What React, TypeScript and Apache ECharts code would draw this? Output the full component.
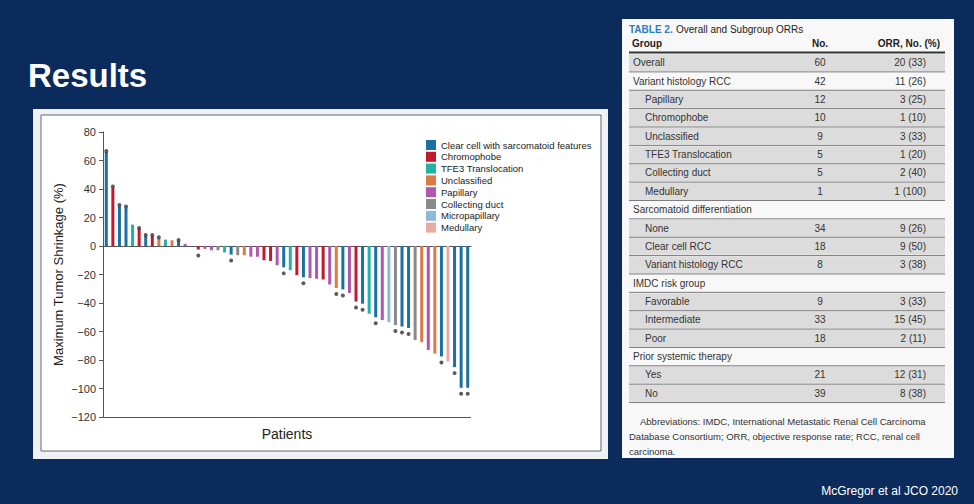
import React, { useEffect, useRef } from "react";
import * as echarts from "echarts";

// ---------- Waterfall data ----------
const histologies = [
  "Clear cell with sarcomatoid features",
  "Chromophobe",
  "TFE3 Translocation",
  "Unclassified",
  "Papillary",
  "Collecting duct",
  "Micropapillary",
  "Medullary",
];
const histologyColors = ["#1b6fa3", "#c2192f", "#22b2a3", "#db7a46", "#ad58ad", "#8a8a8a", "#8dbad9", "#e8aaa2"];

// per patient (sorted as in the figure)
const patientTypes = [
  "Clear cell with sarcomatoid features", "Chromophobe", "Clear cell with sarcomatoid features", "Clear cell with sarcomatoid features",
  "TFE3 Translocation", "Chromophobe", "Clear cell with sarcomatoid features", "Chromophobe", "Unclassified", "TFE3 Translocation",
  "Unclassified", "Clear cell with sarcomatoid features", "Papillary", "Unclassified", "Chromophobe", "Papillary", "Papillary",
  "Collecting duct", "TFE3 Translocation", "Clear cell with sarcomatoid features", "Collecting duct", "Unclassified", "Papillary",
  "Papillary", "Chromophobe", "Chromophobe", "Papillary", "Clear cell with sarcomatoid features", "TFE3 Translocation", "Chromophobe",
  "Clear cell with sarcomatoid features", "Papillary", "Papillary", "Chromophobe", "Papillary", "Unclassified",
  "Clear cell with sarcomatoid features", "Papillary", "Chromophobe", "Clear cell with sarcomatoid features", "TFE3 Translocation",
  "Clear cell with sarcomatoid features", "Papillary", "Micropapillary", "Collecting duct", "Clear cell with sarcomatoid features",
  "Clear cell with sarcomatoid features", "Collecting duct", "Unclassified", "Papillary", "Unclassified",
  "Clear cell with sarcomatoid features", "Medullary", "Clear cell with sarcomatoid features", "Clear cell with sarcomatoid features",
  "Clear cell with sarcomatoid features",
];
const shrinkage = [
  66, 41, 28, 27, 15, 12, 7, 7, 5.5, 4.5, 4, 3.5, 1.5, 0, -2.5, -2, -3, -3, -4.5, -6, -6.5, -6.5, -7.5, -7.5, -10, -10.5,
  -13.5, -15, -17, -20.5, -22, -22.5, -23, -23.5, -27, -29.5, -30.5, -33, -39, -40.5, -47.5, -50, -52, -53.5, -55.5, -56.5,
  -57.5, -66, -67.5, -73, -75.5, -77.5, -81, -85, -99.5, -99.5,
];
const starred = [
  1, 1, 1, 1, 0, 1, 1, 1, 1, 0, 0, 1, 0, 0, 1, 0, 0, 0, 0, 1, 0, 0, 0, 0, 0, 0, 0, 1, 0, 0, 1, 0, 0, 0, 0, 1, 1, 0, 1, 1,
  0, 1, 0, 0, 1, 1, 1, 0, 0, 0, 0, 1, 0, 1, 1, 1,
];
const yTicks = { min: -120, max: 80, interval: 20 };

// ---------- Table data ----------
const tableGroups = [
  "Overall", "Variant histology RCC", "Papillary", "Chromophobe", "Unclassified", "TFE3 Translocation", "Collecting duct",
  "Medullary", "Sarcomatoid differentiation", "None", "Clear cell RCC", "Variant histology RCC", "IMDC risk group",
  "Favorable", "Intermediate", "Poor", "Prior systemic therapy", "Yes", "No",
];
const tableNo = ["60", "42", "12", "10", "9", "5", "5", "1", "", "34", "18", "8", "", "9", "33", "18", "", "21", "39"];
const tableOrr = [
  "20 (33)", "11 (26)", "3 (25)", "1 (10)", "3 (33)", "1 (20)", "2 (40)", "1 (100)", "", "9 (26)", "9 (50)", "3 (38)", "",
  "3 (33)", "15 (45)", "2 (11)", "", "12 (31)", "8 (38)",
];
const tableIndent = [0, 0, 1, 1, 1, 1, 1, 1, 0, 1, 1, 1, 0, 1, 1, 1, 0, 1, 1];
const tableShaded = [1, 0, 1, 1, 1, 1, 1, 1, 0, 1, 1, 1, 0, 1, 1, 1, 0, 1, 1];
const footnoteLines = [
  "Abbreviations: IMDC, International Metastatic Renal Cell Carcinoma",
  "Database Consortium; ORR, objective response rate; RCC, renal cell",
  "carcinoma.",
];

const FONT = "'Liberation Sans', Arial, sans-serif";

function buildTableGraphics(): any[] {
  const els: any[] = [];
  const x0 = 629, x1 = 945, rowH = 18.37, firstCenter = 62.7;
  els.push({ type: "rect", z: -10, shape: { x: 622, y: 19, width: 332, height: 439 }, style: { fill: "#f8f8f8" } });
  els.push({
    type: "text", x: x0, y: 29,
    style: {
      text: "{a|TABLE 2.} {b|Overall and Subgroup ORRs}", verticalAlign: "middle",
      rich: {
        a: { fontFamily: FONT, fontSize: 10, fontWeight: "bold", fill: "#2e7dbf" },
        b: { fontFamily: FONT, fontSize: 10, fill: "#222" },
      },
    },
  });
  const head = { fontFamily: FONT, fontSize: 10, fontWeight: "bold", fill: "#222", verticalAlign: "middle" };
  els.push({ type: "text", x: 632, y: 43, style: { ...head, text: "Group", align: "left" } });
  els.push({ type: "text", x: 820, y: 43, style: { ...head, text: "No.", align: "center" } });
  els.push({ type: "text", x: 940, y: 43, style: { ...head, text: "ORR, No. (%)", align: "right" } });
  els.push({ type: "line", shape: { x1: x0, y1: 52.5, x2: x1, y2: 52.5 }, style: { stroke: "#333", lineWidth: 1.8 } });
  tableGroups.forEach((g, i) => {
    const cy = firstCenter + i * rowH;
    if (tableShaded[i]) {
      els.push({ type: "rect", z: -5, shape: { x: x0, y: cy - rowH / 2 + 0.8, width: x1 - x0, height: rowH - 1.6 }, style: { fill: "#dcdcdc" } });
    }
    const body = { fontFamily: FONT, fontSize: 10, fill: "#333", verticalAlign: "middle" };
    els.push({ type: "text", x: tableIndent[i] ? 645 : 633, y: cy, style: { ...body, text: g, align: "left" } });
    if (tableNo[i]) els.push({ type: "text", x: 820, y: cy, style: { ...body, text: tableNo[i], align: "center" } });
    if (tableOrr[i]) els.push({ type: "text", x: 926, y: cy, style: { ...body, text: tableOrr[i], align: "right" } });
    els.push({
      type: "line", shape: { x1: x0, y1: cy + rowH / 2, x2: x1, y2: cy + rowH / 2 },
      style: { stroke: "#7a7a7a", lineWidth: 1 },
    });
  });
  footnoteLines.forEach((t, i) => {
    els.push({
      type: "text", x: i === 0 ? 640 : 629, y: 421 + i * 15,
      style: { text: t, fontFamily: FONT, fontSize: 9.5, fill: "#333", verticalAlign: "middle" },
    });
  });
  return els;
}

export default function App() {
  const ref = useRef<HTMLDivElement>(null);
  useEffect(() => {
    if (!ref.current) return;
    const chart = echarts.init(ref.current, undefined, { renderer: "svg" });
    const categories = shrinkage.map((_, i) => `P${i + 1}`);
    const barSeries = histologies.map((h, k) => ({
      name: h,
      type: "bar",
      stack: "patients",
      barWidth: 3,
      itemStyle: { color: histologyColors[k] },
      data: shrinkage.map((v, i) => (patientTypes[i] === h ? v : null)),
    }));
    const starData: any[] = [];
    shrinkage.forEach((v, i) => {
      if (starred[i]) starData.push({ value: [i, v], symbolOffset: v >= 0 ? [0, -1] : [0, 6] });
    });
    const option: any = {
      animation: false,
      backgroundColor: "#0b2b5c",
      textStyle: { fontFamily: FONT },
      grid: { left: 103, top: 132, width: 368, height: 285 },
      legend: {
        data: histologies,
        orient: "vertical",
        left: 421,
        top: 135,
        itemWidth: 10,
        itemHeight: 10,
        itemGap: 1.8,
        icon: "rect",
        textStyle: { fontSize: 9.5, color: "#222", fontFamily: FONT },
      },
      xAxis: {
        type: "category",
        data: categories,
        axisLine: { onZero: true, lineStyle: { color: "#555", width: 1 } },
        axisTick: { show: false },
        axisLabel: { show: false },
      },
      yAxis: {
        type: "value",
        min: yTicks.min,
        max: yTicks.max,
        interval: yTicks.interval,
        name: "Maximum Tumor Shrinkage (%)",
        nameLocation: "middle",
        nameGap: 38,
        nameTextStyle: { fontSize: 13, color: "#222", fontFamily: FONT },
        axisLine: { show: true, lineStyle: { color: "#555", width: 1 } },
        axisTick: { show: true, length: 4, lineStyle: { color: "#555" } },
        axisLabel: {
          fontSize: 11, color: "#333", margin: 7,
          formatter: (v: number) => String(v).replace("-", "\u2212"),
        },
        splitLine: { show: false },
      },
      series: [
        ...barSeries,
        {
          name: "stars",
          type: "scatter",
          symbol: "circle",
          symbolSize: 4,
          itemStyle: { color: "#333" },
          z: 5,
          data: starData,
          markLine: {
            silent: true,
            symbol: "none",
            label: { show: false },
            lineStyle: { color: "#555", width: 1, type: "solid" },
            data: [{ yAxis: yTicks.min }],
          },
        },
      ],
      graphic: {
        elements: [
          { type: "rect", z: -20, shape: { x: 33, y: 109, width: 575, height: 350 }, style: { fill: "#eef1f5" } },
          { type: "rect", z: -19, shape: { x: 41, y: 115, width: 560, height: 336 }, style: { fill: "#ffffff", stroke: "#666", lineWidth: 1 } },
          {
            type: "text", x: 28, y: 75,
            style: { text: "Results", fontFamily: FONT, fontSize: 33, fontWeight: "bold", fill: "#ffffff", verticalAlign: "middle" },
          },
          {
            type: "text", x: 287, y: 434,
            style: { text: "Patients", fontFamily: FONT, fontSize: 14, fill: "#222", align: "center", verticalAlign: "middle" },
          },
          {
            type: "text", x: 958, y: 491,
            style: { text: "McGregor et al JCO 2020", fontFamily: FONT, fontSize: 12, fill: "#ffffff", align: "right", verticalAlign: "middle" },
          },
          ...buildTableGraphics(),
        ],
      },
    };
    chart.setOption(option);
    return () => chart.dispose();
  }, []);
  return <div ref={ref} style={{ position: "absolute", left: 0, top: 0, width: 974, height: 504 }} />;
}
